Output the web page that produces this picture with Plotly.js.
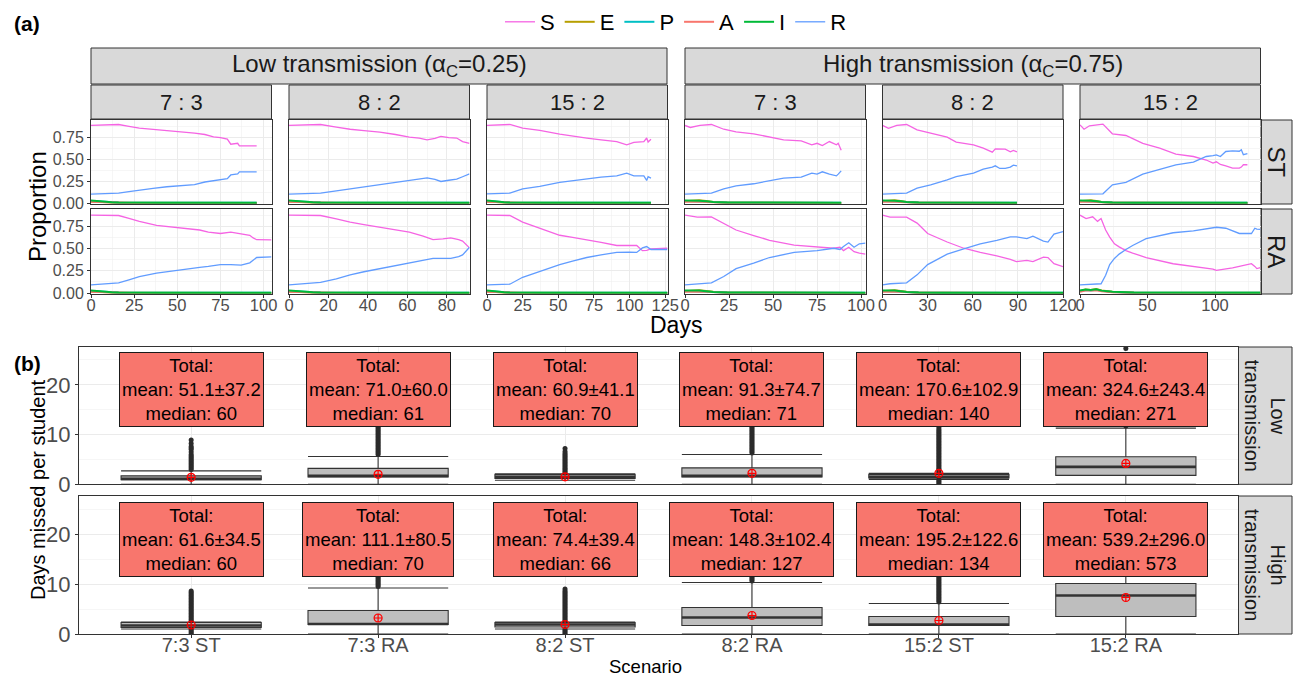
<!DOCTYPE html>
<html><head><meta charset="utf-8">
<script src="https://cdn.plot.ly/plotly-3.0.1.min.js"></script>
<style>body{margin:0;background:#fff}#chart{width:1293px;height:676px}</style>
</head><body><div id="chart"></div>
<script>
// ================= DATA: panel (a) =================
const compartments = ['S','E','P','A','I','R'];
const compColors = ['#F564E3','#B79F00','#00BFC4','#F8766D','#00BA38','#619CFF'];
const transmissionLabels = ['Low transmission (α<sub>C</sub>=0.25)','High transmission (α<sub>C</sub>=0.75)'];
const ratioLabels = ['7 : 3','8 : 2','15 : 2'];
const strategyLabels = ['ST','RA'];

// Low transmission, 7:3
const dayL73ST = [0,8,16,22,28,36,44,52,60,66,71,75,79,81,83,85,86,90,96];
const sL73ST   = [0.883,0.889,0.894,0.872,0.852,0.838,0.826,0.81,0.795,0.78,0.752,0.745,0.727,0.67,0.675,0.68,0.65,0.65,0.65];
const rL73ST   = [0.102,0.108,0.114,0.13,0.15,0.168,0.186,0.197,0.21,0.24,0.255,0.273,0.277,0.32,0.325,0.333,0.356,0.356,0.356];
const dayL73RA = [0,8,16,22,28,38,50,63,68,75,81,87,92,94,96,104.6];
const sL73RA   = [0.876,0.874,0.872,0.84,0.806,0.76,0.736,0.709,0.685,0.67,0.686,0.67,0.65,0.62,0.60,0.597];
const rL73RA   = [0.093,0.105,0.116,0.15,0.186,0.225,0.26,0.29,0.30,0.32,0.32,0.314,0.34,0.37,0.40,0.407];
// Low transmission, 8:2
const dayL82ST = [0,8,16,24,31,38,46,54,61,66,70,74,77,81,85,88,91.5];
const sL82ST   = [0.883,0.889,0.894,0.865,0.84,0.825,0.807,0.78,0.75,0.74,0.72,0.735,0.758,0.745,0.74,0.70,0.68];
const rL82ST   = [0.102,0.108,0.114,0.14,0.163,0.185,0.208,0.233,0.258,0.27,0.288,0.27,0.246,0.26,0.273,0.30,0.333];
const dayL82RA = [0,8,16,24,31,38,46,54,61,68,73,78,82,86,88,91.5];
const sL82RA   = [0.876,0.874,0.872,0.835,0.798,0.77,0.74,0.712,0.686,0.64,0.60,0.61,0.62,0.60,0.585,0.508];
const rL82RA   = [0.093,0.105,0.12,0.16,0.205,0.24,0.275,0.31,0.341,0.37,0.39,0.39,0.39,0.41,0.43,0.515];
// Low transmission, 15:2
const dayL152ST = [0,8,16,25,37,51,60,70,80,91,98,103,110,112,113,115];
const sL152ST   = [0.883,0.889,0.894,0.852,0.826,0.784,0.76,0.74,0.72,0.70,0.663,0.69,0.70,0.74,0.695,0.727];
const rL152ST   = [0.106,0.11,0.114,0.163,0.19,0.235,0.255,0.277,0.295,0.31,0.341,0.31,0.31,0.258,0.30,0.284];
const dayL152RA = [0,8,16,25,37,51,60,70,80,91,100,105,109,112,115,120,126.6];
const sL152RA   = [0.876,0.874,0.872,0.798,0.729,0.65,0.625,0.60,0.57,0.535,0.535,0.535,0.477,0.48,0.496,0.50,0.504];
const rL152RA   = [0.093,0.097,0.10,0.178,0.244,0.32,0.36,0.40,0.43,0.457,0.46,0.457,0.508,0.523,0.49,0.49,0.49];
// High transmission, 7:3
const dayH73ST = [0,3,8.5,15,22,29,39,48,56,66,72,75,78,82,86,87,88.7];
const sH73ST   = [0.883,0.86,0.885,0.894,0.84,0.81,0.788,0.755,0.72,0.708,0.663,0.68,0.655,0.70,0.663,0.68,0.60];
const rH73ST   = [0.102,0.105,0.11,0.114,0.163,0.197,0.22,0.25,0.284,0.295,0.341,0.33,0.356,0.33,0.31,0.33,0.367];
const dayH73RA = [0,7,15,22,29,39,48,62,75,84.5,88,90,93,96,99,102.5];
const sH73RA   = [0.876,0.853,0.857,0.787,0.709,0.647,0.593,0.539,0.523,0.504,0.515,0.477,0.515,0.465,0.45,0.438];
const rH73RA   = [0.093,0.105,0.116,0.186,0.275,0.337,0.40,0.457,0.477,0.504,0.49,0.523,0.566,0.515,0.554,0.562];
// High transmission, 8:2
const dayH82ST = [0,4,9.5,16,23,32,43,49,60.5,67,73,75,78,81.6,85,87,89.4];
const sH82ST   = [0.883,0.85,0.883,0.894,0.833,0.795,0.75,0.693,0.663,0.625,0.58,0.617,0.617,0.614,0.583,0.60,0.583];
const rH82ST   = [0.102,0.105,0.11,0.114,0.17,0.208,0.265,0.30,0.341,0.386,0.409,0.424,0.394,0.394,0.409,0.432,0.424];
const dayH82RA = [0,5,16,23,30,43,54,65,76,85,89,96,100,107,110,114,120];
const sH82RA   = [0.876,0.853,0.853,0.787,0.67,0.574,0.504,0.457,0.419,0.38,0.353,0.368,0.353,0.405,0.40,0.33,0.298];
const rH82RA   = [0.093,0.105,0.116,0.205,0.32,0.438,0.496,0.554,0.593,0.632,0.632,0.612,0.64,0.585,0.574,0.663,0.69];
// High transmission, 15:2
const dayH152ST = [0,3,7,17,24,34,46.5,59,71,84,93.5,98.5,101,104,108,113,118,119.5,121,124];
const sH152ST   = [0.89,0.84,0.879,0.898,0.788,0.769,0.68,0.625,0.557,0.53,0.49,0.455,0.47,0.44,0.424,0.398,0.398,0.41,0.436,0.436];
const rH152ST   = [0.102,0.103,0.104,0.106,0.208,0.235,0.33,0.386,0.436,0.466,0.53,0.54,0.549,0.53,0.587,0.595,0.59,0.606,0.55,0.564];
const dayH152RA = [0,4.5,9.4,13,15.6,19,22,25.5,29,34,39,49,69,84,98.5,101,108,113,118,127,129.5,131,133.7];
const sH152RA   = [0.876,0.837,0.857,0.806,0.837,0.709,0.63,0.554,0.52,0.477,0.45,0.40,0.33,0.302,0.27,0.256,0.27,0.283,0.30,0.33,0.30,0.275,0.285];
const rH152RA   = [0.093,0.097,0.10,0.103,0.105,0.20,0.32,0.39,0.438,0.49,0.535,0.612,0.678,0.70,0.74,0.74,0.729,0.70,0.67,0.67,0.729,0.72,0.717];

// Small compartments (E, P, A, I): days 0,4,8,12,16,24,40 then the last day of the panel
const minorDay = [0,4,8,12,16,24,40];
const eLow  = [0.018,0.014,0.010,0.007,0.005,0.003,0.002,0.001];
const pLow  = [0.025,0.020,0.013,0.009,0.006,0.004,0.003,0.003];
const aLow  = [0.015,0.012,0.008,0.005,0.003,0.002,0.001,0.001];
const iLow  = [0.030,0.022,0.015,0.010,0.007,0.005,0.004,0.004];
const eHigh = [0.020,0.030,0.032,0.024,0.014,0.006,0.003,0.002];
const pHigh = [0.025,0.022,0.020,0.015,0.010,0.006,0.004,0.003];
const aHigh = [0.015,0.020,0.018,0.014,0.009,0.005,0.003,0.002];
const iHigh = [0.030,0.030,0.028,0.020,0.012,0.007,0.005,0.004];
const eH152RA = [0.020,0.040,0.035,0.045,0.030,0.015,0.005,0.003];
const pH152RA = [0.025,0.035,0.030,0.038,0.025,0.012,0.005,0.003];
const aH152RA = [0.015,0.030,0.028,0.032,0.020,0.010,0.004,0.002];
const iH152RA = [0.030,0.040,0.036,0.042,0.028,0.014,0.006,0.004];

// ================= DATA: panel (b) =================
const scenarios = ['7:3 ST','7:3 RA','8:2 ST','8:2 RA','15:2 ST','15:2 RA'];
const levelLabels = ['Low<br>transmission','High<br>transmission'];
// Low transmission boxes
const loFenceLow = [0, 0, 0.8, 0, 1.0, 0];
const q1Low      = [0.9, 1.5, 1.2, 1.5, 1.3, 1.8];
const medLow     = [1.1, 1.7, 1.5, 1.7, 1.5, 3.5];
const q3Low      = [1.7, 3.2, 2.0, 3.3, 2.0, 5.55];
const hiFenceLow = [2.7, 5.6, 2.1, 6.0, 2.2, 11.3];
const meanDaysLow = [1.4, 2.0, 1.5, 2.2, 2.2, 4.2];
// High transmission boxes
const loFenceHigh = [1.0, 0, 1.0, 0, 0, 0];
const q1High      = [1.3, 1.9, 1.4, 1.7, 1.7, 3.5];
const medHigh     = [1.7, 2.0, 1.9, 3.3, 1.9, 7.7];
const q3High      = [2.3, 4.7, 2.3, 5.3, 3.5, 10.1];
const hiFenceHigh = [2.4, 9.2, 2.4, 10.3, 6.1, 19.0];
const meanDaysHigh = [1.8, 3.2, 1.9, 3.7, 2.7, 7.3];
// Outliers
const outL73ST  = [3.0,3.3,3.6,3.9,4.2,4.5,4.8,5.1,5.4,5.7,6.0,6.5,7.0,7.3,7.6,8.2,8.9];
const outL73RA  = [6.0,6.3,6.6,6.9,7.2,7.5,7.8,8.1,8.4,8.7,9.0,9.3,9.6,9.9,10.2,10.5,10.8,11.1,11.4,11.7];
const outL82ST  = [2.3,2.6,2.9,3.2,3.5,3.8,4.1,4.4,4.7,5.0,5.3,5.6,5.9,6.2,6.6,7.2];
const outL82RA  = [6.3,6.6,6.9,7.2,7.5,7.8,8.1,8.4,8.7,9.0,9.3,9.6,9.9,10.2,10.5,10.8,11.1,11.4,11.7];
const outL152ST = [0,0.3,0.6,0.9,2.3,2.6,2.9,3.2,3.5,3.8,4.1,4.4,4.7,5.0,5.3,5.6,5.9,6.2,6.5,6.8,7.1,7.4,7.7,8.0,8.3,8.6,8.9,9.2,9.5,9.8,10.1,10.4,10.7,11.0,11.4];
const outL152RA = [11.7,27.3];
const outH73ST  = [0,0.3,0.6,0.9,2.6,2.9,3.2,3.5,3.8,4.1,4.4,4.7,5.0,5.3,5.6,5.9,6.2,6.5,6.8,7.1,7.4,7.7,8.0,8.3,8.6];
const outH73RA  = [9.5,9.8,10.1,10.4,10.7,11.0,11.3,11.6,11.9];
const outH82ST  = [0,0.3,0.6,0.9,2.6,2.9,3.2,3.5,3.8,4.1,4.4,4.7,5.0,5.3,5.6,5.9,6.2,6.5,6.8,7.1,7.4,7.7,8.0,8.3,8.6,9.0];
const outH82RA  = [10.6,10.9,11.2,11.5,11.8];
const outH152ST = [6.4,6.7,7.0,7.3,7.6,7.9,8.2,8.5,8.8,9.1,9.4,9.7,10.0,10.3,10.6,10.9,11.2,11.5,11.8];
const outH152RA = [];
// Totals shown in labels
const totalMeanLow  = [51.1, 71.0, 60.9, 91.3, 170.6, 324.6];
const totalSdLow    = [37.2, 60.0, 41.1, 74.7, 102.9, 243.4];
const totalMedLow   = [60, 61, 70, 71, 140, 271];
const totalMeanHigh = [61.6, 111.1, 74.4, 148.3, 195.2, 539.2];
const totalSdHigh   = [34.5, 80.5, 39.4, 102.4, 122.6, 296.0];
const totalMedHigh  = [60, 70, 66, 127, 134, 573];

// ================= BUILD =================
const F = 'Liberation Sans, Arial, Helvetica, sans-serif';
const W = 1293, H = 676;
const px = x => x / W;
const py = y => 1 - y / H;

const panels = [
  {d:dayL73ST, s:sL73ST, r:rL73ST, m:[eLow,pLow,aLow,iLow]},
  {d:dayL82ST, s:sL82ST, r:rL82ST, m:[eLow,pLow,aLow,iLow]},
  {d:dayL152ST,s:sL152ST,r:rL152ST,m:[eLow,pLow,aLow,iLow]},
  {d:dayH73ST, s:sH73ST, r:rH73ST, m:[eHigh,pHigh,aHigh,iHigh]},
  {d:dayH82ST, s:sH82ST, r:rH82ST, m:[eHigh,pHigh,aHigh,iHigh]},
  {d:dayH152ST,s:sH152ST,r:rH152ST,m:[eHigh,pHigh,aHigh,iHigh]},
  {d:dayL73RA, s:sL73RA, r:rL73RA, m:[eLow,pLow,aLow,iLow]},
  {d:dayL82RA, s:sL82RA, r:rL82RA, m:[eLow,pLow,aLow,iLow]},
  {d:dayL152RA,s:sL152RA,r:rL152RA,m:[eLow,pLow,aLow,iLow]},
  {d:dayH73RA, s:sH73RA, r:rH73RA, m:[eHigh,pHigh,aHigh,iHigh]},
  {d:dayH82RA, s:sH82RA, r:rH82RA, m:[eHigh,pHigh,aHigh,iHigh]},
  {d:dayH152RA,s:sH152RA,r:rH152RA,m:[eH152RA,pH152RA,aH152RA,iH152RA]}
];

const colLeft = [91, 289, 487, 685, 882.5, 1080];
const colW = 180.5;
const rowTop = [120, 209], rowBot = [204, 294];
const colDtick = [25, 20, 25, 25, 30, 50];

const traces = [];
const layout = {
  width: W, height: H, margin:{l:0,r:0,t:0,b:0},
  paper_bgcolor:'#FFFFFF', plot_bgcolor:'#FFFFFF',
  font:{family:F, color:'#000000'},
  showlegend:true,
  legend:{orientation:'h', x:px(500), xanchor:'left', y:py(22), yanchor:'middle',
          font:{size:22, family:F, color:'#000'}, bgcolor:'rgba(0,0,0,0)', itemwidth:30, traceorder:'normal'},
  shapes:[], annotations:[]
};

panels.forEach((p, idx) => {
  const k = idx + 1, row = Math.floor(idx/6), col = idx % 6;
  const sfx = k === 1 ? '' : String(k);
  const last = p.d[p.d.length-1];
  const md = minorDay.concat([last]);
  const ys = [p.s, p.m[0], p.m[1], p.m[2], p.m[3], p.r];
  compartments.forEach((c, ci) => {
    const main = (c === 'S' || c === 'R');
    traces.push({type:'scatter', mode:'lines', x: main ? p.d : md, y: ys[ci],
      xaxis:'x'+sfx, yaxis:'y'+sfx, name:c, legendgroup:c, showlegend: idx === 0,
      line:{color:compColors[ci], width: main ? 1.3 : 2}, hoverinfo:'skip'});
  });
  const ra = panels[6 + col].d;
  const xmax = ra[ra.length-1];
  layout['xaxis'+sfx] = {domain:[px(colLeft[col]), px(colLeft[col]+colW)], anchor:'y'+sfx,
    range:[0, xmax], tick0:0, dtick:colDtick[col], showgrid:true, gridcolor:'#EBEBEB', gridwidth:1,
    minor:{dtick:colDtick[col]/2, showgrid:true, gridcolor:'#F0F0F0', gridwidth:0.6},
    zeroline:false, showline:true, mirror:true, linecolor:'#333333', linewidth:1,
    ticks: row === 1 ? 'outside' : '', ticklen:3, tickcolor:'#333333', ticklabelstandoff:-7,
    showticklabels: row === 1, tickfont:{size:16.5, color:'#4D4D4D', family:F}};
  layout['yaxis'+sfx] = {domain:[py(rowBot[row]), py(rowTop[row])], anchor:'x'+sfx,
    range:[-0.01, 0.945], tick0:0, dtick:0.25, tickformat:'.2f', showgrid:true, gridcolor:'#EBEBEB', gridwidth:1,
    minor:{dtick:0.125, showgrid:true, gridcolor:'#F0F0F0', gridwidth:0.6},
    zeroline:false, showline:true, mirror:true, linecolor:'#333333', linewidth:1,
    ticks: col === 0 ? 'outside' : '', ticklen:3, tickcolor:'#333333',
    showticklabels: col === 0, tickfont:{size:16, color:'#4D4D4D', family:F}};
});

function strip(x0, x1, y0, y1) {
  layout.shapes.push({type:'rect', xref:'paper', yref:'paper', x0:px(x0), x1:px(x1), y0:py(y1), y1:py(y0),
    fillcolor:'#D9D9D9', line:{color:'#333333', width:1}, layer:'below'});
}
function txt(text, x, y, size, opts) {
  layout.annotations.push(Object.assign({xref:'paper', yref:'paper', x:px(x), y:py(y), text:text,
    showarrow:false, xanchor:'center', yanchor:'middle', font:{size:size, family:F, color:'#1A1A1A'}}, opts || {}));
}
const groupSpan = [[91, 667], [685, 1260.5]];
groupSpan.forEach((g, gi) => {
  strip(g[0], g[1], 48, 84);
  txt(transmissionLabels[gi], (g[0]+g[1])/2, 66, 24);
});
colLeft.forEach((l, ci) => {
  strip(l, l+colW, 85, 119);
  txt(ratioLabels[ci % 3], l + colW/2, 102, 22);
});
strategyLabels.forEach((s, ri) => {
  strip(1261, 1292, rowTop[ri], rowBot[ri]);
  txt(s, 1276.5, (rowTop[ri]+rowBot[ri])/2, 24, {textangle:90});
});
txt('Proportion', 38, 207, 24, {textangle:-90, font:{size:24, family:F, color:'#000'}});
txt('Days', 676, 325, 23, {font:{size:23, family:F, color:'#000'}});
txt('<b>(a)</b>', 27, 23, 21, {font:{size:21, family:F, color:'#000'}});

// ================= panel (b) =================
const bTop = [347, 496], bBot = [484.3, 634];
const bLeft = 79, bRight = 1238;
const boxW = 0.75;
const pos = scenarios.map((s, i) => i);
const levels = [
  {lo:loFenceLow, q1:q1Low, med:medLow, q3:q3Low, hi:hiFenceLow, mean:meanDaysLow,
   outs:[outL73ST,outL73RA,outL82ST,outL82RA,outL152ST,outL152RA],
   tm:totalMeanLow, ts:totalSdLow, tmed:totalMedLow},
  {lo:loFenceHigh, q1:q1High, med:medHigh, q3:q3High, hi:hiFenceHigh, mean:meanDaysHigh,
   outs:[outH73ST,outH73RA,outH82ST,outH82RA,outH152ST,outH152RA],
   tm:totalMeanHigh, ts:totalSdHigh, tmed:totalMedHigh}
];
levels.forEach((L, li) => {
  const k = 13 + li, sfx = String(k);
  layout['xaxis'+sfx] = {domain:[px(bLeft), px(bRight)], anchor:'y'+sfx, type:'linear',
    tickmode:'array', tickvals:pos, ticktext:scenarios, range:[-0.6, 5.6],
    showgrid:true, gridcolor:'#EBEBEB', gridwidth:1, zeroline:false,
    showline:true, mirror:true, linecolor:'#333333', linewidth:1,
    ticks: li === 1 ? 'outside' : '', ticklen:3, tickcolor:'#333333', ticklabelstandoff:-10,
    showticklabels: li === 1, tickfont:{size:20, color:'#4D4D4D', family:F}};
  layout['yaxis'+sfx] = {domain:[py(bBot[li]), py(bTop[li])], anchor:'x'+sfx,
    range:[0, 27.6], tick0:0, dtick:10, showgrid:true, gridcolor:'#EBEBEB', gridwidth:1,
    minor:{dtick:5, showgrid:true, gridcolor:'#F0F0F0', gridwidth:0.6},
    zeroline:false, showline:true, mirror:true, linecolor:'#333333', linewidth:1,
    ticks:'outside', ticklen:3, tickcolor:'#333333',
    tickfont:{size:22, color:'#4D4D4D', family:F}};
  traces.push({type:'box', x:pos, q1:L.q1, median:L.med, q3:L.q3, lowerfence:L.lo, upperfence:L.hi,
    xaxis:'x'+sfx, yaxis:'y'+sfx, width:boxW, whiskerwidth:1, fillcolor:'#BEBEBE',
    line:{color:'#333333', width:1.1}, boxpoints:false, showlegend:false, hoverinfo:'skip'});
  const mx = [], my = [];
  pos.forEach((p, i) => { mx.push(p - boxW/2, p + boxW/2, null); my.push(L.med[i], L.med[i], null); });
  traces.push({type:'scatter', mode:'lines', x:mx, y:my, xaxis:'x'+sfx, yaxis:'y'+sfx,
    line:{color:'#333333', width:2.6}, showlegend:false, hoverinfo:'skip'});
  const ox = [], oy = [];
  L.outs.forEach((arr, si) => arr.forEach(v => { ox.push(pos[si]); oy.push(v); }));
  traces.push({type:'scatter', mode:'markers', x:ox, y:oy, xaxis:'x'+sfx, yaxis:'y'+sfx,
    marker:{color:'#2B2B2B', size:5}, showlegend:false, hoverinfo:'skip'});
  traces.push({type:'scatter', mode:'markers', x:pos, y:L.mean, xaxis:'x'+sfx, yaxis:'y'+sfx,
    marker:{color:'#FF0000', size:8, symbol:'circle-cross-open', line:{width:1.2, color:'#FF0000'}},
    showlegend:false, hoverinfo:'skip'});
  pos.forEach((p, si) => {
    layout.annotations.push({xref:'x'+sfx, yref:'y'+sfx, x:p, y:26.5, xanchor:'center', yanchor:'top',
      text:'Total:<br>mean: ' + L.tm[si].toFixed(1) + '±' + L.ts[si].toFixed(1) + '<br>median: ' + L.tmed[si],
      showarrow:false, bgcolor:'#F8766D', bordercolor:'#1A1A1A', borderwidth:1, borderpad:2,
      font:{size:18.5, family:F, color:'#000'}});
  });
  strip(1238.5, 1292, bTop[li], bBot[li]);
  txt(levelLabels[li], 1265, (bTop[li]+bBot[li])/2, 20, {textangle:90});
});
txt('Days missed per student', 38, 490, 20, {textangle:-90, font:{size:20, family:F, color:'#000'}});
txt('Scenario', 645, 666, 18.5, {font:{size:18.5, family:F, color:'#000'}});
txt('<b>(b)</b>', 27, 363, 21, {font:{size:21, family:F, color:'#000'}});

Plotly.newPlot('chart', traces, layout, {staticPlot:true, displayModeBar:false});
</script>
</body></html>
